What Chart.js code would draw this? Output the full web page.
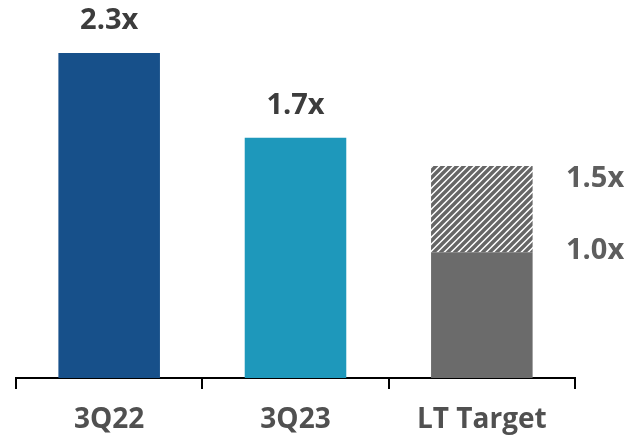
<!DOCTYPE html>
<html>
<head>
<meta charset="utf-8">
<script src="https://cdn.jsdelivr.net/npm/chart.js@4"></script>
<style>
  html, body { margin: 0; padding: 0; background: #fff; }
  #wrap { width: 633px; height: 437px; }
</style>
</head>
<body>
<div id="wrap"><canvas id="myChart" width="633" height="437"></canvas></div>
<script>
// data
const categories = ['3Q22', '3Q23', 'LT Target'];
const baseValues = [2.3, 1.7, 0.89];
const rangeValues = [0, 0, 0.61];
const topLabels = ['2.3x', '1.7x', ''];
const targetLabels = ['1.0x', '1.5x'];

const barColors = ['#17508a', '#1e98bb', '#6b6b6b'];

// diagonal hatch for the target range
function makeHatch() {
  const size = 7;
  const c = document.createElement('canvas');
  c.width = size;
  c.height = size;
  const g = c.getContext('2d');
  g.fillStyle = '#fff';
  g.fillRect(0, 0, size, size);
  g.strokeStyle = '#666';
  g.lineWidth = 3.4;
  g.beginPath();
  g.moveTo(-1, size + 1); g.lineTo(size + 1, -1);
  g.moveTo(-2, 2); g.lineTo(2, -2);
  g.moveTo(size - 2, size + 2); g.lineTo(size + 2, size - 2);
  g.stroke();
  return g.createPattern(c, 'repeat');
}

const font = '"Open Sans", "DejaVu Sans", sans-serif';

const labelPlugin = {
  id: 'barLabels',
  afterDatasetsDraw(chart) {
    const ctx = chart.ctx;
    const meta = chart.getDatasetMeta(0);
    const y = chart.scales.y;
    ctx.save();
    ctx.font = 'bold 29px ' + font;
    ctx.textBaseline = 'middle';
    ctx.textAlign = 'center';
    ctx.fillStyle = '#3c3c3c';
    meta.data.forEach((bar, i) => {
      if (topLabels[i]) ctx.fillText(topLabels[i], bar.x, bar.y - 32);
    });
    // target labels at the right of the last bar
    ctx.textAlign = 'left';
    ctx.fillStyle = '#5e5e5e';
    const x = chart.chartArea.right - 9;
    const last = baseValues.length - 1;
    ctx.fillText(targetLabels[0], x, y.getPixelForValue(baseValues[last]) - 2);
    ctx.fillText(targetLabels[1], x, y.getPixelForValue(baseValues[last] + rangeValues[last]) + 13);
    ctx.restore();
  }
};

window.onload = function() {
  const ctx = document.getElementById('myChart').getContext('2d');
  new Chart(ctx, {
    type: 'bar',
    data: {
      labels: categories,
      datasets: [
        {
          label: 'base',
          data: baseValues,
          backgroundColor: barColors,
          borderWidth: 0,
          barPercentage: 0.545,
          categoryPercentage: 1
        },
        {
          label: 'range',
          data: rangeValues,
          backgroundColor: makeHatch(),
          borderWidth: 0,
          barPercentage: 0.545,
          categoryPercentage: 1
        }
      ]
    },
    options: {
      responsive: false,
      animation: false,
      layout: { padding: { left: 16, right: 58, top: 53, bottom: 0 } },
      plugins: {
        legend: { display: false },
        tooltip: { enabled: false }
      },
      scales: {
        x: {
          stacked: true,
          grid: {
            offset: true,
            drawOnChartArea: false,
            drawTicks: true,
            tickLength: 11,
            color: '#000',
            lineWidth: 2
          },
          border: { display: true, color: '#000', width: 2 },
          ticks: {
            color: '#505050',
            font: { family: font, size: 28, weight: 'bold' },
            padding: 14
          },
          afterFit(scale) { scale.height = 59; }
        },
        y: {
          stacked: true,
          display: false,
          min: 0,
          max: 2.3
        }
      }
    },
    plugins: [labelPlugin]
  });
};
</script>
</body>
</html>
